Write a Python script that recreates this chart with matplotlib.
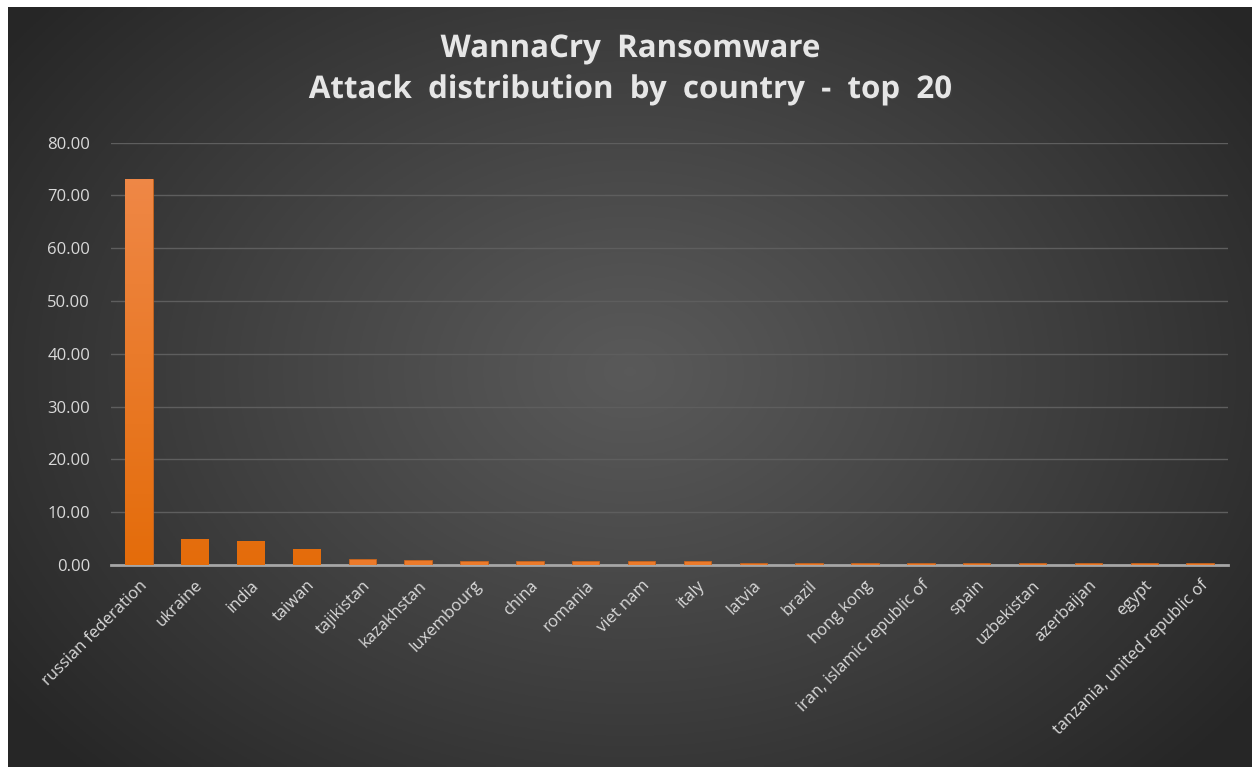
import numpy as np
import matplotlib
matplotlib.use("Agg")
import matplotlib.pyplot as plt
import matplotlib.patheffects as pe

# ---- data ----
countries = [
    "russian federation", "ukraine", "india", "taiwan", "tajikistan",
    "kazakhstan", "luxembourg", "china", "romania", "viet nam", "italy",
    "latvia", "brazil", "hong kong", "iran, islamic republic of", "spain",
    "uzbekistan", "azerbaijan", "egypt", "tanzania, united republic of",
]
share = [73.1, 5.0, 4.6, 3.0, 1.1, 1.0, 0.7, 0.7, 0.7, 0.7, 0.7,
         0.4, 0.4, 0.4, 0.4, 0.4, 0.4, 0.4, 0.4, 0.4]
yticks = [0, 10, 20, 30, 40, 50, 60, 70, 80]

W, H = 1254, 767
fig = plt.figure(figsize=(W / 100, H / 100), dpi=100)
fig.patch.set_facecolor("white")

# radial dark gradient background (chart area)
bg = fig.add_axes([8 / W, 0, (1252 - 8) / W, (767 - 7) / H])
bg.set_axis_off()
gx, gy = np.meshgrid(np.linspace(0, 1, 400), np.linspace(0, 1, 300))
r = np.sqrt(((gx - 0.5) / 0.62) ** 2 + ((gy - 0.48) / 0.75) ** 2)
r = np.clip(r, 0, 1)
lo, hi = 0.15, 0.35
v = hi - (hi - lo) * r ** 1.1
bg.imshow(np.dstack([v, v, v]), aspect="auto", extent=[0, 1, 0, 1])
bg.set_xlim(0, 1)
bg.set_ylim(0, 1)

ax = fig.add_axes([111 / W, 1 - 565 / H, (1228 - 111) / W, (565 - 142.6) / H])
ax.patch.set_alpha(0)
x = np.arange(len(countries))
bars = ax.bar(x, share, width=0.49, color="#ec7a2a", edgecolor="#c8641c",
              linewidth=0.6, zorder=3)

# vertical orange gradient inside the taller bars
grad = np.linspace(0, 1, 256).reshape(-1, 1)
cmap = matplotlib.colors.LinearSegmentedColormap.from_list(
    "org", ["#e46c0a", "#f08a4c"])
for b in bars:
    if b.get_height() < 2:
        continue
    im = ax.imshow(grad, cmap=cmap, aspect="auto", origin="lower",
                   extent=[b.get_x(), b.get_x() + b.get_width(), 0, 80],
                   zorder=3.5)
    im.set_clip_path(b)

ax.set_xlim(-0.5, len(countries) - 0.5)
ax.set_ylim(0, 80)
ax.set_yticks(yticks)
ax.set_yticklabels([f"{t:.2f}" for t in yticks])
ax.grid(axis="y", color="#5e5e5e", linewidth=1, zorder=0)
ax.set_axisbelow(True)
for s in ["top", "right", "left"]:
    ax.spines[s].set_visible(False)
ax.spines["bottom"].set_color("#a6a6a6")
ax.spines["bottom"].set_linewidth(2)
ax.spines["bottom"].set_zorder(2)
ax.tick_params(axis="both", length=0, colors="#d9d9d9", labelsize=12)
ax.tick_params(axis="y", pad=15)
ax.tick_params(axis="x", pad=9)
ax.set_xticks(x)
ax.set_xticklabels(countries, rotation=45, ha="right", rotation_mode="anchor",
                   family="Open Sans")
for lab in ax.get_yticklabels():
    lab.set_family("Open Sans")

title_fx = [pe.SimplePatchShadow(offset=(1, -1), alpha=0.6), pe.Normal()]
fig.text(0.503, 1 - 57 / H, "WannaCry  Ransomware", ha="center",
         va="baseline", fontsize=22.5, fontweight="bold", color="#e6e6e6",
         family="Open Sans", path_effects=title_fx)
fig.text(0.503, 1 - 98 / H, "Attack  distribution  by  country  -  top  20",
         ha="center", va="baseline", fontsize=22.5, fontweight="bold",
         color="#e6e6e6", family="Open Sans", path_effects=title_fx)

fig.savefig("out.png", dpi=100, facecolor=fig.get_facecolor())
